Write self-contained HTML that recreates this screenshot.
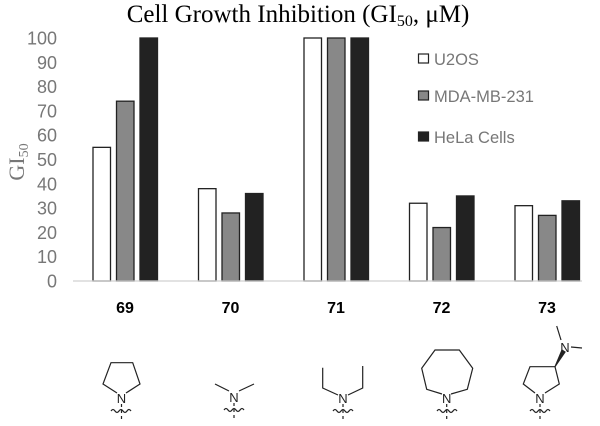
<!DOCTYPE html>
<html><head><meta charset="utf-8"><style>
html,body{margin:0;padding:0;background:#fff;}
svg{display:block;}
</style></head><body>
<svg id="chart" width="600" height="426" viewBox="0 0 600 426" xmlns="http://www.w3.org/2000/svg">
<text x="298" y="22" text-anchor="middle" font-family="Liberation Serif, serif" font-size="25" fill="#000">Cell Growth Inhibition (GI<tspan font-size="16" dy="4">50</tspan><tspan dy="-4">, μM)</tspan></text>
<text transform="translate(24,162) rotate(-90)" text-anchor="middle" font-family="Liberation Serif, serif" font-size="22" fill="#777">GI<tspan font-size="14" dy="4">50</tspan></text>
<g id="yticks"></g>
<g id="bars"></g>
<line x1="73" y1="281" x2="582" y2="281" stroke="#d0d0d0" stroke-width="1.2"/>
<g id="xlabels"></g>
<g font-family="Liberation Sans, sans-serif" font-size="16.5" fill="#777">
  <g><rect x="418.5" y="54" width="10" height="9" fill="#fff" stroke="#222" stroke-width="1.2"/><text x="434" y="65">U2OS</text></g>
  <g><rect x="418.5" y="91" width="10" height="9" fill="#888" stroke="#222" stroke-width="1.2"/><text x="434" y="102">MDA-MB-231</text></g>
  <g><rect x="418.5" y="132" width="10" height="9" fill="#222" stroke="#222" stroke-width="1.2"/><text x="434" y="143">HeLa Cells</text></g>
</g>
<g stroke="#222" stroke-width="1.2" fill="none" font-family="Liberation Sans, sans-serif">
  <g>
    <polyline points="117,393 103,384 111,362.7 132.7,362.7 140,384 126,393"/>
    <text x="121.5" y="403" font-size="13" text-anchor="middle" fill="#222" stroke="none">N</text>
    <path d="M111,411 q2,-3 4,0 t4,0 t4,0 t4,0 t4,0"/><line x1="121.5" y1="404" x2="121.5" y2="419" stroke-dasharray="3,3"/>
  </g>
  <g>
    <polyline points="215,384 229,391"/><polyline points="254,384 239,391"/>
    <text x="234" y="402" font-size="13" text-anchor="middle" fill="#222" stroke="none">N</text>
    <path d="M224,410 q2,-3 4,0 t4,0 t4,0 t4,0 t4,0"/><line x1="234" y1="403" x2="234" y2="418" stroke-dasharray="3,3"/>
  </g>
  <g>
    <polyline points="322.7,367.7 322.7,388 338,395"/><polyline points="362.7,366 362.7,388 348,395"/>
    <text x="343" y="403" font-size="13" text-anchor="middle" fill="#222" stroke="none">N</text>
    <path d="M333,411 q2,-3 4,0 t4,0 t4,0 t4,0 t4,0"/><line x1="343" y1="404" x2="343" y2="419" stroke-dasharray="3,3"/>
  </g>
  <g>
    <polyline points="442,394 426.7,389.3 421.7,368.3 435,350 459.3,350 472.7,368.3 467.3,389.3 451,394"/>
    <text x="446.7" y="403" font-size="13" text-anchor="middle" fill="#222" stroke="none">N</text>
    <path d="M437,411 q2,-3 4,0 t4,0 t4,0 t4,0 t4,0"/><line x1="446.7" y1="404" x2="446.7" y2="419" stroke-dasharray="3,3"/>
  </g>
  <g>
    <polyline points="535,393 523.3,384 530,366.7 555,366.7 559.3,384 545,393"/>
    <polygon points="555,366.7 562,350 565,352" fill="#222"/>
    <text x="565" y="352" font-size="13" text-anchor="middle" fill="#222" stroke="none">N</text>
    <line x1="561" y1="340" x2="556.7" y2="326"/><line x1="571" y1="347" x2="582" y2="348"/>
    <text x="540" y="403" font-size="13" text-anchor="middle" fill="#222" stroke="none">N</text>
    <path d="M530,411 q2,-3 4,0 t4,0 t4,0 t4,0 t4,0"/><line x1="540" y1="404" x2="540" y2="419" stroke-dasharray="3,3"/>
  </g>
</g>
</svg>
<script>
const categories = ["69","70","71","72","73"];
const u2os = [55,38,100,32,31];
const mda = [74,28,100,22,27];
const hela = [100,36,100,35,33];
const yTicks = [0,10,20,30,40,50,60,70,80,90,100];

const NS = "http://www.w3.org/2000/svg";
const y = v => 281 - v * 2.43;
const xc = i => 125 + i * 105.5;
const series = [
  {name:"u2os", vals:u2os, fill:"#fff", off:-32},
  {name:"mda", vals:mda, fill:"#888", off:-8.5},
  {name:"hela", vals:hela, fill:"#222", off:15}
];
const tg = document.getElementById("yticks");
yTicks.forEach(t => {
  const tx = document.createElementNS(NS, "text");
  tx.setAttribute("x", 57); tx.setAttribute("y", y(t) + 6.5);
  tx.setAttribute("text-anchor", "end");
  tx.setAttribute("font-family", "Liberation Sans, sans-serif");
  tx.setAttribute("font-size", "18"); tx.setAttribute("fill", "#777");
  tx.textContent = t;
  
  
  tg.appendChild(tx);
});
const bg = document.getElementById("bars");
series.forEach(s => {
  s.vals.forEach((v, i) => {
    const r = document.createElementNS(NS, "rect");
    r.setAttribute("x", xc(i) + s.off); r.setAttribute("width", 17.5);
    r.setAttribute("y", y(v)); r.setAttribute("height", 281 - y(v));
    r.setAttribute("fill", s.fill); r.setAttribute("stroke", "#222"); r.setAttribute("stroke-width", "1.3");
    
    
    bg.appendChild(r);
  });
});
const xg = document.getElementById("xlabels");
categories.forEach((c, i) => {
  const tx = document.createElementNS(NS, "text");
  tx.setAttribute("x", xc(i)); tx.setAttribute("y", 313);
  tx.setAttribute("text-anchor", "middle");
  tx.setAttribute("font-family", "Liberation Sans, sans-serif");
  tx.setAttribute("font-size", "16"); tx.setAttribute("font-weight", "bold"); tx.setAttribute("fill", "#000");
  tx.textContent = c;
  
  
  xg.appendChild(tx);
});
</script>
</body></html>
